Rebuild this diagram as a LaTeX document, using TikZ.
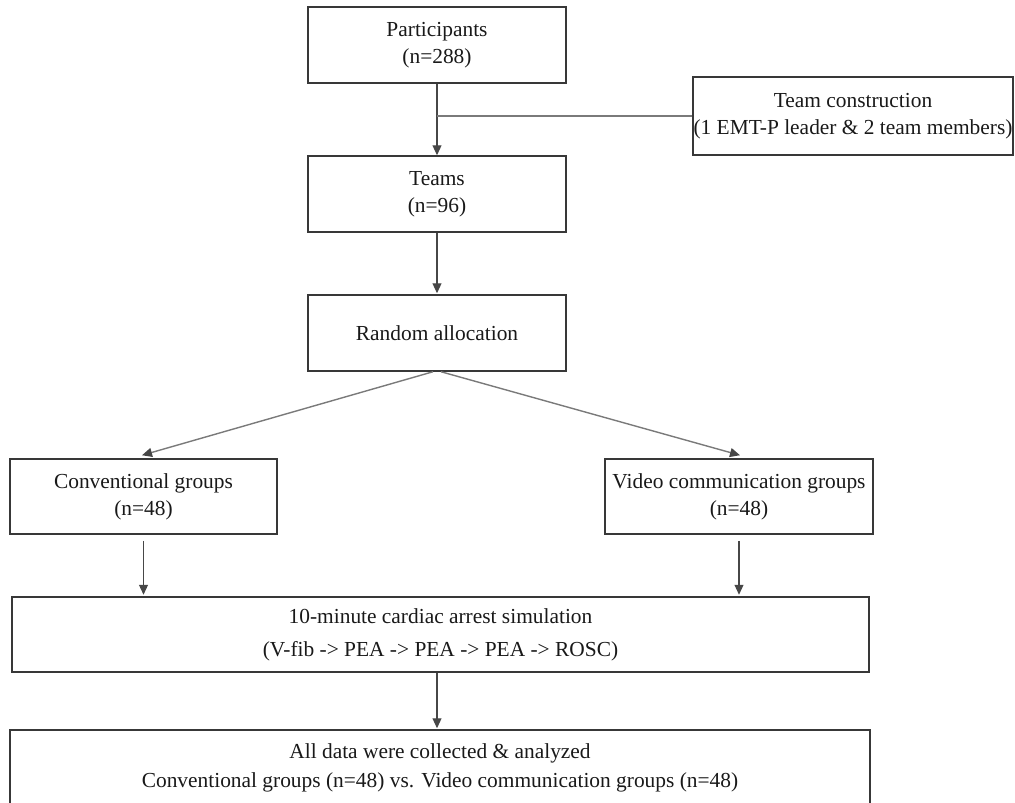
\documentclass[tikz,border=0pt]{standalone}
\usepackage{fontspec}
\setmainfont{Liberation Serif}
\usetikzlibrary{arrows.meta}
\definecolor{boxc}{gray}{0.22}
\definecolor{arrc}{gray}{0.28}
\definecolor{lightc}{gray}{0.48}
\tikzset{
  flowbox/.style={draw=boxc, line width=1.5pt, inner sep=0pt, align=center,
    font=\fontsize{21.4}{27}\selectfont, text=black!90},
  darrow/.style={draw=arrc, line width=1.1pt, -{Triangle[length=10pt,width=9pt,fill=arrc]}},
  larrow/.style={draw=lightc, line width=1.4pt, -{Triangle[length=10pt,width=9pt,fill=arrc,color=arrc]}},
  lline/.style={draw=lightc, line width=1.5pt}
}
\begin{document}
\begin{tikzpicture}[x=1pt,y=-1pt]
\useasboundingbox (0,0) rectangle (1015,803);
\clip (0,0) rectangle (1015,803);
\node[flowbox, minimum width=258pt, minimum height=76pt] (part) at (437,45) {Participants\\(n=288)};
\node[flowbox, minimum width=258pt, minimum height=76pt] (teams) at (437,194) {Teams\\(n=96)};
\node[flowbox, minimum width=258pt, minimum height=76pt] (rand) at (437,333) {Random allocation};
\node[flowbox, minimum width=320pt, minimum height=78pt] (tc) at (853,116) {Team construction\\(1 EMT-P leader \& 2 team members)};
\node[flowbox, minimum width=267pt, minimum height=75pt] (conv) at (143.5,496.5) {Conventional groups\\(n=48)};
\node[flowbox, minimum width=268pt, minimum height=75pt] (video) at (739,496.5) {Video communication groups\\(n=48)};
\node[flowbox, minimum width=857pt, minimum height=75pt, font=\fontsize{21.4}{33}\selectfont] (sim) at (440.5,634.5) {10-minute cardiac arrest simulation\\(V-fib -> PEA -> PEA -> PEA -> ROSC)};
\node[flowbox, minimum width=860pt, minimum height=76pt, font=\fontsize{21.4}{28.5}\selectfont] (final) at (440,768) {All data were collected \& analyzed\\Conventional groups (n=48) vs. Video communication groups (n=48)};
% connectors
\draw[darrow] (part.south) -- (teams.north);
\draw[lline] (tc.west) -- (tc.west -| part.south);
\draw[darrow] (teams.south) -- ([yshift=1pt]rand.north);
\draw[larrow] ([xshift=-4pt]rand.south) -- ([xshift=-1.5pt,yshift=3pt]conv.north);
\draw[larrow] ([xshift=4pt]rand.south) -- ([xshift=1pt,yshift=3pt]video.north);
\draw[darrow] ([yshift=-6pt]conv.south) -- ([yshift=1.5pt]conv.south |- sim.north);
\draw[darrow] ([yshift=-6pt]video.south) -- ([yshift=1.5pt]video.south |- sim.north);
\draw[darrow] (sim.south -| part.south) -- ([yshift=1pt]final.north -| part.south);
\end{tikzpicture}
\end{document}
